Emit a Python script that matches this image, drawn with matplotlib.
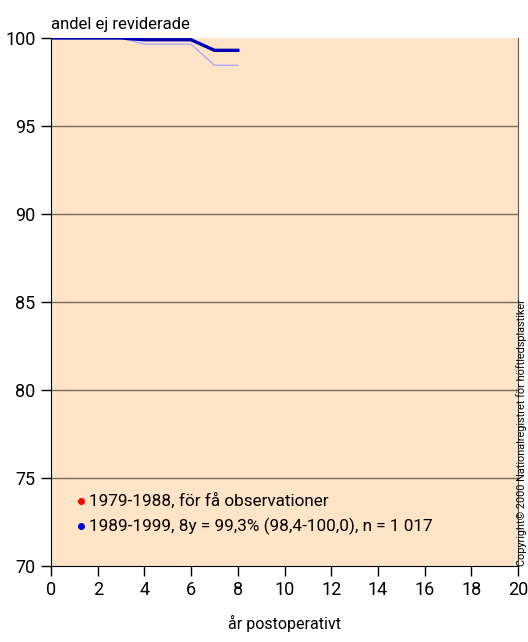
import matplotlib
matplotlib.use("Agg")
import matplotlib.pyplot as plt

# data
years = [0, 1, 2, 3, 4, 5, 6, 7, 8]
survival = [100.0, 100.0, 100.0, 100.0, 99.9, 99.9, 99.9, 99.3, 99.3]
lower_ci = [100.0, 100.0, 100.0, 100.0, 99.65, 99.65, 99.65, 98.45, 98.45]

legend_labels = ["1979-1988, för få observationer",
                 "1989-1999, 8y = 99,3% (98,4-100,0), n = 1 017"]
legend_colors = ["#ff0000", "#0000cc"]

x_ticks = list(range(0, 21, 2))
y_ticks = [70, 75, 80, 85, 90, 95, 100]

plt.rcParams['font.family'] = ['Roboto', 'DejaVu Sans']

fig = plt.figure(figsize=(5.28, 6.42), dpi=100)
ax = fig.add_axes([51 / 528, 1 - 566 / 642, 467 / 528, 528 / 642])
ax.set_facecolor("#ffe4c8")

for y in y_ticks[1:-1]:
    ax.axhline(y, color="#7a6a5a", lw=1.0, zorder=1)

ax.plot(years, lower_ci, color="#aaaaff", lw=1.0, zorder=3)
ax.plot(years, survival, color="#0000b4", lw=2.4, zorder=4)

ax.set_xlim(0, 20)
ax.set_ylim(70, 100)
ax.set_xticks(x_ticks)
ax.set_yticks(y_ticks)
ax.tick_params(labelsize=13, length=7, width=1, direction="out", pad=4)
ax.spines['top'].set_visible(False)
ax.spines['right'].set_color("#555555")

ax.set_xlabel("år postoperativt", fontsize=11.5, labelpad=11)
ax.text(0.0, 1.012, "andel ej reviderade", transform=ax.transAxes,
        fontsize=12, ha="left", va="bottom")

# legend as dots + text
for i, (lab, col) in enumerate(zip(legend_labels, legend_colors)):
    yy = 73.7 - i * 1.42
    ax.plot([1.3], [yy], "o", color=col, ms=4, zorder=5)
    ax.text(1.62, yy, lab, fontsize=12.3, va="center", ha="left", zorder=5)

fig.text(522 / 528, 1 - 566 / 642, "Copyright© 2000 Nationalregistret för höftledsplastiker",
         rotation=90, fontsize=7.8, ha="center", va="bottom")

fig.savefig("out.png", dpi=100)
